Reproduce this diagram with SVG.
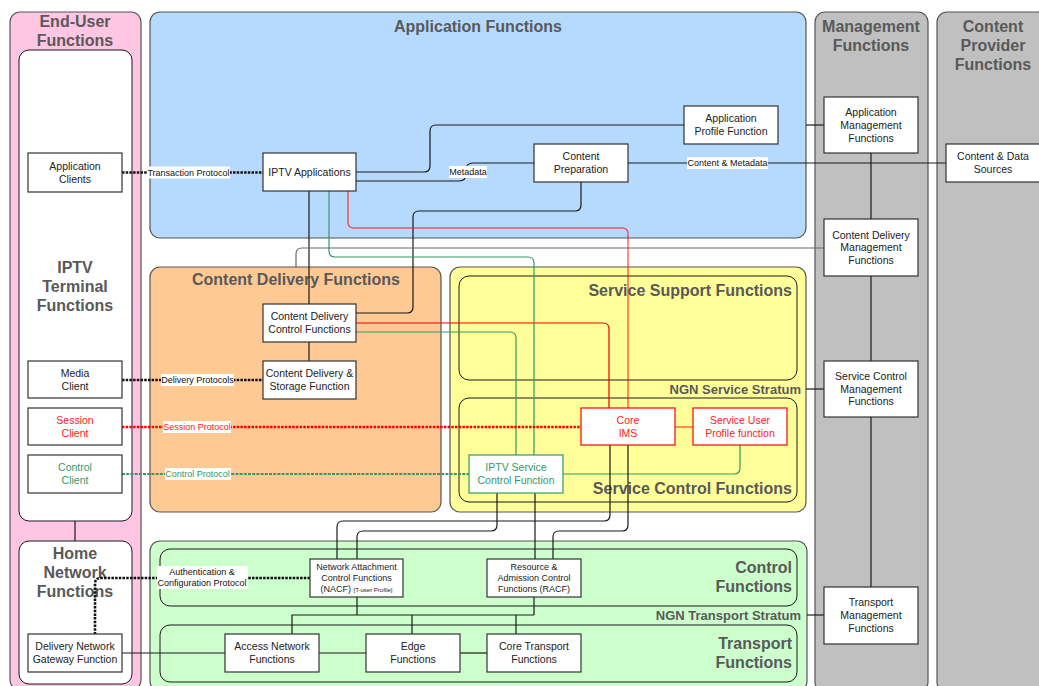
<svg xmlns="http://www.w3.org/2000/svg" width="1039" height="686" viewBox="0 0 1039 686">
  <style>
    .panel{stroke:#555;stroke-width:1.2}
    .inner{fill:none;stroke:#1a1a1a;stroke-width:1}
    .innerw{fill:#fff;stroke:#1a1a1a;stroke-width:1}
    .title{font-family:"Liberation Sans",Arial,sans-serif;font-weight:bold;font-size:16px;fill:#595959}
    .stratum{font-family:"Liberation Sans",Arial,sans-serif;font-weight:bold;font-size:13px;fill:#595959;text-anchor:end}
    .node rect{fill:#fff;stroke:#333;stroke-width:1.2}
    .node text{font-family:"Liberation Sans",Arial,sans-serif;font-size:10.5px;fill:#222;text-anchor:middle}
    .node text.s{font-size:9px}
    .node text.xs{font-size:6px}
    .node.red rect,.node.red2 rect{stroke:#ff0000}
    .node.red text,.node.red2 text{fill:#ff2020}
    .node.grn rect{stroke:#339966}
    .node.grn text,.node.gtxt text{fill:#339966}
    .node.rtxt text{fill:#ff2020}
    .ln{fill:none;stroke:#1a1a1a;stroke-width:1.2}
    .gry{fill:none;stroke:#666;stroke-width:1.2}
    .g{fill:none;stroke:#339966;stroke-width:1.2}
    .r{fill:none;stroke:#ee0000;stroke-width:1.2}
    .rl{fill:none;stroke:#ff0000;stroke-opacity:0.6;stroke-width:1.5}
    .dot{fill:none;stroke:#111;stroke-width:2.6;stroke-dasharray:2.5 1.2}
    .dotr{fill:none;stroke:#ff0000;stroke-width:2.6;stroke-dasharray:2.5 1.2}
    .dotg{fill:none;stroke:#339966;stroke-width:2;stroke-dasharray:3 1.2}
    .lbl rect{fill:#fff}
    .lbl text{font-family:"Liberation Sans",Arial,sans-serif;font-size:9px;fill:#111;text-anchor:middle}
  </style>

  <!-- functional area panels -->
  <g id="panels">
    <rect class="panel" x="10" y="12" width="131" height="678" rx="10" fill="#ffc6e3"/>
    <rect class="panel" x="150" y="12" width="656" height="226" rx="10" fill="#b6dafd"/>
    <rect class="panel" x="815" y="12" width="113" height="680" rx="10" fill="#c0c0c0"/>
    <rect class="panel" x="937" y="12" width="110" height="680" rx="10" fill="#c0c0c0"/>
    <rect class="panel" x="150" y="267" width="291" height="245" rx="10" fill="#ffc994"/>
    <rect class="panel" x="450" y="267" width="356" height="245" rx="10" fill="#ffff99"/>
    <rect class="panel" x="150" y="541" width="657" height="150" rx="10" fill="#ccffcc"/>

    <rect class="innerw" x="19" y="50" width="113" height="471" rx="10"/>
    <rect class="innerw" x="19" y="541" width="113" height="143" rx="10"/>
    <rect class="inner" x="459" y="276" width="338" height="104" rx="10"/>
    <rect class="inner" x="459" y="398" width="338" height="104" rx="10"/>
    <rect class="inner" x="160" y="549" width="637" height="57" rx="10"/>
    <rect class="inner" x="160" y="625" width="637" height="57" rx="10"/>
  </g>

  <!-- panel titles -->
  <g id="titles" class="title">
    <text x="75" y="27" text-anchor="middle">End-User</text>
    <text x="75" y="46" text-anchor="middle">Functions</text>
    <text x="478" y="32" text-anchor="middle">Application Functions</text>
    <text x="871" y="32" text-anchor="middle">Management</text>
    <text x="871" y="51" text-anchor="middle">Functions</text>
    <text x="993" y="32" text-anchor="middle">Content</text>
    <text x="993" y="51" text-anchor="middle">Provider</text>
    <text x="993" y="70" text-anchor="middle">Functions</text>
    <text x="75" y="273" text-anchor="middle">IPTV</text>
    <text x="75" y="292" text-anchor="middle">Terminal</text>
    <text x="75" y="311" text-anchor="middle">Functions</text>
    <text x="75" y="559" text-anchor="middle">Home</text>
    <text x="75" y="578" text-anchor="middle">Network</text>
    <text x="75" y="597" text-anchor="middle">Functions</text>
    <text x="296" y="285" text-anchor="middle">Content Delivery Functions</text>
    <text x="792" y="296" text-anchor="end">Service Support Functions</text>
    <text x="792" y="494" text-anchor="end">Service Control Functions</text>
    <text x="792" y="573" text-anchor="end">Control</text>
    <text x="792" y="592" text-anchor="end">Functions</text>
    <text x="792" y="649" text-anchor="end">Transport</text>
    <text x="792" y="668" text-anchor="end">Functions</text>
  </g>
  <text class="stratum" x="801" y="394">NGN Service Stratum</text>
  <text class="stratum" x="801" y="620">NGN Transport Stratum</text>

  <!-- connectors -->
  <g id="connectors">
    <path class="dot" d="M122,172.5 H263"/>
    <path class="ln" d="M356,172 H424 Q430,172 430,166 V131 Q430,125 436,125 H684"/>
    <path class="ln" d="M356,181 H459 Q466,181 466,174 V170 Q466,163 473,163 H534"/>
    <path class="ln" d="M628,163 H946"/>
    <path class="ln" d="M581,182 V205 Q581,211 575,211 H419 Q413,211 413,217 V307 Q413,313 407,313 H356"/>
    <path class="ln" d="M309,191 V304"/>
    <path class="g" d="M329,191 V251 Q329,257 335,257 H528 Q534,257 534,263 V455"/>
    <path class="rl" d="M348,191 V222 Q348,228 354,228 H622 Q628,228 628,234 V408"/>
    <path class="r" d="M356,323 H603 Q609,323 609,329 V408"/>
    <path class="g" d="M356,332 H510 Q516,332 516,338 V455"/>
    <path class="ln" d="M309,342 V361"/>
    <path class="dot" d="M122,380 H263"/>
    <path class="dotr" d="M122,427 H581"/>
    <path class="dotg" d="M122,474 H469"/>
    <path class="rl" d="M675,427 H693"/>
    <path class="g" d="M740,445 V468 Q740,474 734,474 H563"/>
    <path class="ln" d="M610,445 V515 Q610,521 604,521 H343 Q337,521 337,527 V559"/>
    <path class="ln" d="M497,493 V525 Q497,531 491,531 H363 Q357,531 357,537 V559"/>
    <path class="ln" d="M535,493 V559"/>
    <path class="ln" d="M628,445 V525 Q628,531 622,531 H559 Q553,531 553,537 V559"/>
    <path class="dot" d="M310,578 H101 Q95,578 95,584 V634"/>
    <path class="ln" d="M122,653 H225"/>
    <path class="ln" d="M319,653 H366"/>
    <path class="ln" d="M460,653 H487"/>
    <path class="ln" d="M292,634 V615 H534"/>
    <path class="ln" d="M357,597 V615"/>
    <path class="ln" d="M534,597 V615"/>
    <path class="ln" d="M412,615 V634"/>
    <path class="ln" d="M516,615 V634"/>
    <path class="ln" d="M75,521 V541"/>
    <path class="ln" d="M871,153 V587"/>
    <path class="ln" d="M806,125 H824"/>
    <path class="gry" d="M296,267 V254 Q296,248 302,248 H824"/>
    <path class="ln" d="M806,389 H824"/>
    <path class="ln" d="M807,615 H824"/>
  </g>

  <!-- connector labels -->
  <g id="labels" class="lbl">
    <rect x="147" y="166.5" width="83" height="12"/>
    <text x="188.5" y="175.7">Transaction Protocol</text>
    <rect x="449" y="166" width="38" height="12"/>
    <text x="468" y="175.2">Metadata</text>
    <rect x="687" y="157" width="81" height="12"/>
    <text x="727.5" y="166.2">Content &amp; Metadata</text>
    <rect x="161" y="374" width="73" height="12"/>
    <text x="197.5" y="383.2">Delivery Protocols</text>
    <rect x="163" y="421" width="68" height="12"/>
    <text x="197" y="430.2" style="fill:#ff2020">Session Protocol</text>
    <rect x="165" y="468" width="66" height="12"/>
    <text x="197.5" y="477.2" style="fill:#339966">Control Protocol</text>
    <rect x="157" y="566" width="91" height="23"/>
    <text x="202" y="575.2">Authentication &amp;</text>
    <text x="202" y="586.2">Configuration Protocol</text>
  </g>

  <!-- function blocks -->
  <g id="app-clients" class="node">
    <rect x="28" y="153" width="94" height="39"/>
    <text x="75" y="170">Application</text><text x="75" y="183">Clients</text>
  </g>
  <g id="media-client" class="node">
    <rect x="28" y="361" width="94" height="37"/>
    <text x="75" y="377">Media</text><text x="75" y="390">Client</text>
  </g>
  <g id="session-client" class="node rtxt">
    <rect x="28" y="408" width="94" height="37"/>
    <text x="75" y="424">Session</text><text x="75" y="437">Client</text>
  </g>
  <g id="control-client" class="node gtxt">
    <rect x="28" y="455" width="94" height="38"/>
    <text x="75" y="471">Control</text><text x="75" y="484">Client</text>
  </g>
  <g id="dn-gateway" class="node">
    <rect x="28" y="634" width="94" height="38"/>
    <text x="75" y="650">Delivery Network</text><text x="75" y="663">Gateway Function</text>
  </g>
  <g id="iptv-applications" class="node">
    <rect x="263" y="153" width="93" height="38"/>
    <text x="309.5" y="176">IPTV Applications</text>
  </g>
  <g id="app-profile" class="node">
    <rect x="684" y="106" width="94" height="38"/>
    <text x="731" y="122">Application</text><text x="731" y="135">Profile Function</text>
  </g>
  <g id="content-prep" class="node">
    <rect x="534" y="144" width="94" height="38"/>
    <text x="581" y="160">Content</text><text x="581" y="173">Preparation</text>
  </g>
  <g id="app-mgmt" class="node">
    <rect x="824" y="97" width="94" height="56"/>
    <text x="871" y="116">Application</text><text x="871" y="129">Management</text><text x="871" y="142">Functions</text>
  </g>
  <g id="content-sources" class="node">
    <rect x="946" y="144" width="96" height="38"/>
    <text x="993" y="160">Content &amp; Data</text><text x="993" y="173">Sources</text>
  </g>
  <g id="cd-mgmt" class="node">
    <rect x="824" y="219" width="94" height="57"/>
    <text x="871" y="239">Content Delivery</text><text x="871" y="251">Management</text><text x="871" y="264">Functions</text>
  </g>
  <g id="sc-mgmt" class="node">
    <rect x="824" y="361" width="94" height="56"/>
    <text x="871" y="380">Service Control</text><text x="871" y="393">Management</text><text x="871" y="405">Functions</text>
  </g>
  <g id="tr-mgmt" class="node">
    <rect x="824" y="587" width="94" height="57"/>
    <text x="871" y="606">Transport</text><text x="871" y="619">Management</text><text x="871" y="632">Functions</text>
  </g>
  <g id="cd-control" class="node">
    <rect x="263" y="304" width="93" height="38"/>
    <text x="309.5" y="320">Content Delivery</text><text x="309.5" y="333">Control Functions</text>
  </g>
  <g id="cd-storage" class="node">
    <rect x="263" y="361" width="93" height="38"/>
    <text x="309.5" y="377">Content Delivery &amp;</text><text x="309.5" y="390">Storage Function</text>
  </g>
  <g id="core-ims" class="node red">
    <rect x="581" y="408" width="94" height="37"/>
    <text x="628" y="424">Core</text><text x="628" y="437">IMS</text>
  </g>
  <g id="user-profile" class="node red2">
    <rect x="693" y="408" width="94" height="37"/>
    <text x="740" y="424">Service User</text><text x="740" y="437">Profile function</text>
  </g>
  <g id="iptv-scf" class="node grn">
    <rect x="469" y="455" width="94" height="38"/>
    <text x="516" y="471">IPTV Service</text><text x="516" y="484">Control Function</text>
  </g>
  <g id="nacf" class="node">
    <rect x="310" y="559" width="93" height="38"/>
    <text class="s" x="356.5" y="570">Network Attachment</text>
    <text class="s" x="356.5" y="581">Control Functions</text>
    <text class="s" x="356.5" y="592">(NACF) <tspan style="font-size:6px">[T-user Profile]</tspan></text>
  </g>
  <g id="racf" class="node">
    <rect x="487" y="559" width="94" height="38"/>
    <text class="s" x="534" y="570">Resource &amp;</text>
    <text class="s" x="534" y="581">Admission Control</text>
    <text class="s" x="534" y="592">Functions (RACF)</text>
  </g>
  <g id="access-network" class="node">
    <rect x="225" y="634" width="94" height="38"/>
    <text x="272" y="650">Access Network</text><text x="272" y="663">Functions</text>
  </g>
  <g id="edge" class="node">
    <rect x="366" y="634" width="94" height="38"/>
    <text x="413" y="650">Edge</text><text x="413" y="663">Functions</text>
  </g>
  <g id="core-transport" class="node">
    <rect x="487" y="634" width="94" height="38"/>
    <text x="534" y="650">Core Transport</text><text x="534" y="663">Functions</text>
  </g>
</svg>
